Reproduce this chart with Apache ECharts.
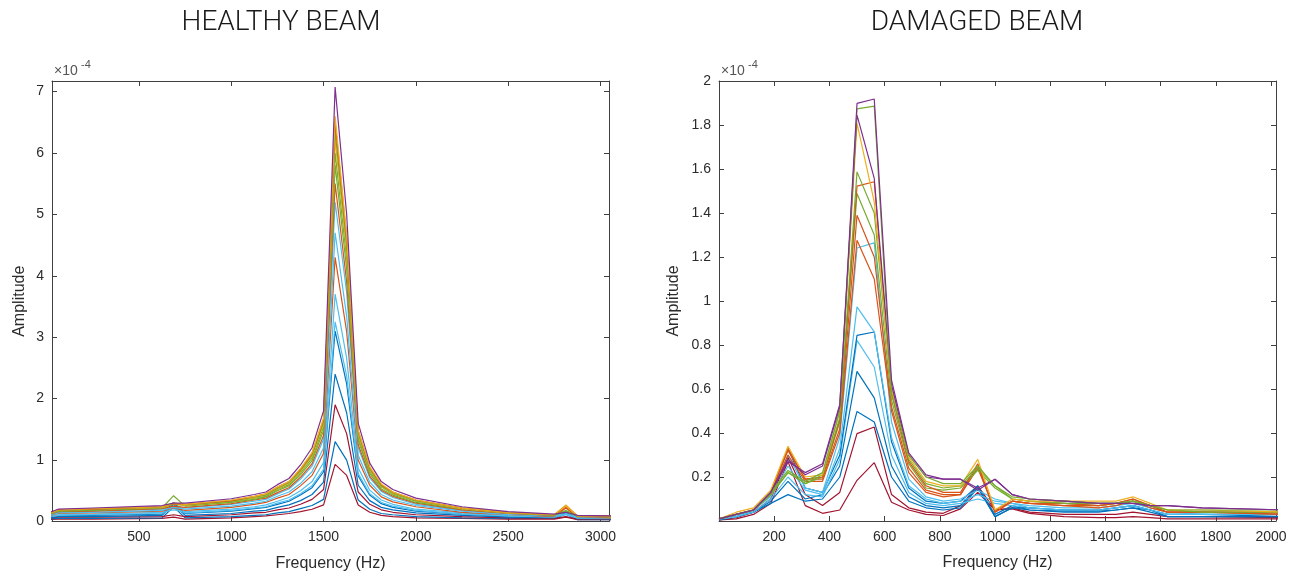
<!DOCTYPE html>
<html>
<head>
<meta charset="utf-8">
<script src="https://cdn.jsdelivr.net/npm/echarts@6/dist/echarts.min.js"></script>
<style>
  html, body { margin: 0; padding: 0; background: #fff; }
  #chart { width: 1306px; height: 579px; }
</style>
</head>
<body>
<div id="chart"></div>
<script>
// MATLAB default line colours
const C = {
  blue: '#0072BD', orange: '#D95319', yellow: '#EDB120', purple: '#7E2F8E',
  green: '#77AC30', lightblue: '#4DBEEE', darkred: '#A2142F'
};

// ---- Healthy beam: frequency bins (Hz) and amplitude spectra (x 1e-4) ----
const healthyFreq = [0, 62.5, 250, 625, 687.5, 750, 1000, 1125, 1187.5, 1250, 1312.5, 1375, 1437.5, 1500,
  1562.5, 1625, 1687.5, 1750, 1812.5, 1875, 2000, 2250, 2500, 2750, 2812.5, 2875, 3062.5];
const healthyColors = ['darkred', 'blue', 'darkred', 'blue', 'blue', 'lightblue', 'lightblue', 'orange',
  'lightblue', 'lightblue', 'orange', 'green', 'green', 'yellow', 'green', 'orange', 'yellow', 'purple'];
const healthyAmp = [
  [0.03,0.04,0.04,0.05,0.07,0.04,0.06,0.08,0.09,0.11,0.13,0.16,0.20,0.27,0.93,0.75,0.27,0.15,0.10,0.08,0.06,0.05,0.04,0.04,0.07,0.03,0.03],
  [0.04,0.05,0.05,0.06,0.24,0.06,0.08,0.10,0.11,0.14,0.16,0.21,0.26,0.36,1.30,1.00,0.35,0.20,0.13,0.11,0.08,0.06,0.05,0.05,0.12,0.03,0.03],
  [0.05,0.07,0.07,0.08,0.11,0.08,0.11,0.14,0.15,0.19,0.22,0.28,0.36,0.52,1.90,1.43,0.48,0.28,0.19,0.15,0.11,0.08,0.06,0.05,0.08,0.04,0.04],
  [0.05,0.08,0.08,0.10,0.28,0.10,0.13,0.17,0.18,0.23,0.27,0.34,0.44,0.64,2.40,1.77,0.59,0.34,0.23,0.19,0.14,0.10,0.07,0.06,0.14,0.05,0.04],
  [0.07,0.10,0.10,0.12,0.31,0.13,0.17,0.21,0.23,0.28,0.33,0.43,0.55,0.81,3.10,2.24,0.74,0.43,0.29,0.23,0.17,0.12,0.08,0.07,0.15,0.06,0.05],
  [0.07,0.10,0.11,0.13,0.22,0.14,0.18,0.22,0.24,0.30,0.35,0.45,0.58,0.85,3.25,2.37,0.78,0.45,0.31,0.25,0.18,0.12,0.09,0.07,0.12,0.06,0.05],
  [0.08,0.11,0.12,0.15,0.19,0.16,0.20,0.24,0.27,0.33,0.39,0.50,0.65,0.96,3.70,2.66,0.87,0.51,0.35,0.28,0.20,0.14,0.09,0.08,0.11,0.06,0.06],
  [0.09,0.13,0.14,0.17,0.22,0.18,0.23,0.28,0.31,0.38,0.44,0.58,0.75,1.11,4.30,3.09,1.00,0.59,0.40,0.32,0.24,0.15,0.11,0.08,0.22,0.07,0.06],
  [0.09,0.14,0.15,0.18,0.23,0.20,0.25,0.30,0.33,0.41,0.48,0.62,0.81,1.20,4.70,3.34,1.08,0.64,0.44,0.35,0.26,0.17,0.11,0.09,0.12,0.07,0.07],
  [0.10,0.15,0.17,0.20,0.24,0.22,0.28,0.33,0.36,0.45,0.53,0.69,0.90,1.34,5.20,3.73,1.20,0.71,0.49,0.39,0.28,0.18,0.12,0.10,0.13,0.08,0.07],
  [0.10,0.16,0.17,0.21,0.25,0.23,0.29,0.35,0.38,0.47,0.55,0.72,0.94,1.40,5.50,3.90,1.25,0.74,0.51,0.41,0.30,0.19,0.13,0.10,0.24,0.08,0.07],
  [0.11,0.17,0.18,0.22,0.42,0.25,0.31,0.36,0.40,0.50,0.58,0.76,0.99,1.48,5.80,4.11,1.32,0.78,0.53,0.43,0.31,0.20,0.14,0.10,0.18,0.09,0.08],
  [0.11,0.17,0.19,0.22,0.28,0.26,0.32,0.38,0.41,0.52,0.60,0.79,1.03,1.54,6.00,4.28,1.37,0.81,0.56,0.45,0.33,0.21,0.14,0.11,0.16,0.09,0.08],
  [0.12,0.18,0.20,0.23,0.29,0.26,0.33,0.39,0.43,0.53,0.62,0.81,1.06,1.59,6.20,4.41,1.41,0.84,0.57,0.46,0.34,0.21,0.14,0.11,0.27,0.09,0.08],
  [0.12,0.18,0.20,0.24,0.30,0.27,0.33,0.40,0.43,0.54,0.63,0.83,1.08,1.62,6.35,4.49,1.44,0.85,0.58,0.47,0.34,0.22,0.15,0.11,0.17,0.09,0.08],
  [0.12,0.19,0.20,0.24,0.29,0.28,0.34,0.41,0.45,0.56,0.65,0.85,1.11,1.66,6.50,4.62,1.48,0.88,0.60,0.48,0.35,0.22,0.15,0.11,0.25,0.09,0.09],
  [0.12,0.19,0.21,0.24,0.30,0.28,0.35,0.41,0.45,0.56,0.65,0.86,1.12,1.68,6.60,4.66,1.49,0.89,0.61,0.48,0.35,0.22,0.15,0.11,0.25,0.09,0.09],
  [0.13,0.20,0.22,0.26,0.30,0.30,0.37,0.44,0.48,0.60,0.70,0.92,1.20,1.80,7.07,5.00,1.60,0.95,0.65,0.52,0.38,0.24,0.16,0.12,0.15,0.10,0.09]
];
const healthyXTicks = [500, 1000, 1500, 2000, 2500, 3000];
const healthyYTicks = [0, 1, 2, 3, 4, 5, 6, 7];

// ---- Damaged beam: frequency bins (Hz) and amplitude spectra (x 1e-4) ----
const damagedFreq = [0, 62.5, 125, 187.5, 250, 312.5, 375, 437.5, 500, 562.5, 625, 687.5, 750, 812.5, 875,
  937.5, 1000, 1062.5, 1125, 1250, 1375, 1437.5, 1500, 1562.5, 1625, 1750, 2062.5];
const damagedColors = ['darkred', 'darkred', 'blue', 'blue', 'lightblue', 'blue', 'lightblue', 'lightblue',
  'orange', 'orange', 'green', 'orange', 'green', 'yellow', 'purple', 'green', 'purple'];
const damagedAmp = [
  [0.005,0.01,0.03,0.08,0.27,0.07,0.035,0.05,0.185,0.265,0.085,0.05,0.03,0.025,0.055,0.13,0.05,0.055,0.035,0.02,0.015,0.015,0.02,0.015,0.01,0.01,0.01],
  [0.005,0.015,0.04,0.10,0.29,0.12,0.07,0.13,0.397,0.427,0.12,0.06,0.04,0.035,0.07,0.16,0.05,0.06,0.04,0.03,0.03,0.03,0.04,0.03,0.02,0.02,0.015],
  [0.005,0.02,0.04,0.08,0.12,0.09,0.10,0.20,0.498,0.45,0.20,0.09,0.06,0.05,0.06,0.15,0.02,0.06,0.05,0.04,0.04,0.05,0.06,0.04,0.02,0.02,0.02],
  [0.005,0.02,0.04,0.09,0.18,0.10,0.12,0.25,0.68,0.56,0.25,0.11,0.07,0.06,0.07,0.15,0.03,0.07,0.05,0.045,0.045,0.05,0.06,0.05,0.03,0.03,0.02],
  [0.01,0.02,0.04,0.10,0.20,0.12,0.11,0.28,0.821,0.70,0.30,0.13,0.08,0.07,0.08,0.10,0.08,0.07,0.06,0.05,0.05,0.06,0.07,0.05,0.03,0.03,0.03],
  [0.01,0.02,0.05,0.12,0.33,0.15,0.13,0.30,0.844,0.859,0.36,0.15,0.09,0.08,0.09,0.16,0.02,0.06,0.06,0.05,0.05,0.06,0.07,0.05,0.02,0.02,0.02],
  [0.01,0.02,0.05,0.11,0.25,0.14,0.12,0.33,0.973,0.86,0.38,0.16,0.10,0.08,0.09,0.12,0.09,0.08,0.06,0.05,0.05,0.06,0.07,0.05,0.03,0.03,0.03],
  [0.01,0.02,0.05,0.12,0.30,0.15,0.13,0.38,1.241,1.264,0.45,0.19,0.11,0.09,0.10,0.14,0.10,0.08,0.07,0.06,0.06,0.07,0.08,0.06,0.04,0.03,0.03],
  [0.01,0.03,0.05,0.12,0.30,0.18,0.18,0.40,1.276,1.10,0.50,0.22,0.13,0.11,0.12,0.24,0.05,0.09,0.08,0.07,0.06,0.07,0.09,0.06,0.04,0.04,0.03],
  [0.01,0.03,0.05,0.13,0.32,0.19,0.19,0.42,1.39,1.20,0.52,0.24,0.14,0.12,0.12,0.25,0.04,0.09,0.08,0.07,0.07,0.08,0.10,0.07,0.04,0.04,0.03],
  [0.01,0.03,0.05,0.12,0.22,0.17,0.20,0.45,1.489,1.30,0.55,0.26,0.15,0.14,0.15,0.23,0.15,0.10,0.09,0.08,0.07,0.08,0.09,0.07,0.05,0.04,0.04],
  [0.01,0.03,0.05,0.13,0.33,0.19,0.20,0.46,1.522,1.542,0.58,0.27,0.16,0.13,0.13,0.26,0.04,0.09,0.08,0.08,0.07,0.08,0.10,0.07,0.04,0.04,0.04],
  [0.01,0.03,0.05,0.12,0.22,0.17,0.21,0.47,1.587,1.40,0.60,0.28,0.17,0.15,0.16,0.24,0.16,0.10,0.09,0.08,0.08,0.08,0.09,0.07,0.05,0.04,0.04],
  [0.01,0.04,0.06,0.14,0.34,0.20,0.21,0.50,1.807,1.45,0.60,0.29,0.18,0.16,0.16,0.28,0.05,0.10,0.09,0.09,0.09,0.09,0.11,0.08,0.05,0.05,0.04],
  [0.01,0.03,0.05,0.13,0.27,0.22,0.26,0.53,1.845,1.557,0.62,0.30,0.20,0.19,0.19,0.15,0.19,0.12,0.10,0.09,0.08,0.08,0.08,0.07,0.07,0.06,0.05],
  [0.01,0.03,0.05,0.13,0.23,0.18,0.22,0.50,1.873,1.886,0.58,0.30,0.20,0.17,0.17,0.25,0.16,0.11,0.10,0.09,0.08,0.08,0.09,0.07,0.05,0.05,0.05],
  [0.01,0.03,0.05,0.13,0.28,0.21,0.25,0.52,1.898,1.918,0.64,0.31,0.21,0.19,0.19,0.14,0.19,0.12,0.10,0.09,0.08,0.08,0.08,0.07,0.07,0.06,0.05]
];
const damagedXTicks = [200, 400, 600, 800, 1000, 1200, 1400, 1600, 1800, 2000];
const damagedYTicks = [0.2, 0.4, 0.6, 0.8, 1, 1.2, 1.4, 1.6, 1.8, 2];

const AXIS = '#404040';
const TEXT = '#2b2b2b';
const FONT = '"Liberation Sans", Arial, sans-serif';

// Bottom/left axes carry labels; top/right copies close the box with inward ticks.
function boxAxes(gridIndex, xRange, yRange, xTicks, yTicks, yFmt, yGap) {
  const tick = { show: true, inside: true, length: 5, lineStyle: { color: AXIS, width: 1 } };
  const line = { show: true, onZero: false, lineStyle: { color: AXIS, width: 1 } };
  const xs = [
    { type: 'value', gridIndex, position: 'bottom', min: xRange[0], max: xRange[1],
      axisLine: line, axisTick: Object.assign({ customValues: xTicks }, tick),
      axisLabel: { customValues: xTicks, color: TEXT, fontSize: 14, fontFamily: FONT, margin: 9,
        formatter: v => String(v) },
      splitLine: { show: false },
      name: 'Frequency (Hz)', nameLocation: 'middle', nameGap: 34,
      nameTextStyle: { color: TEXT, fontSize: 16, fontFamily: FONT } },
    { type: 'value', gridIndex, position: 'top', min: xRange[0], max: xRange[1],
      axisLine: line, axisTick: Object.assign({ customValues: xTicks }, tick),
      axisLabel: { show: false }, splitLine: { show: false } }
  ];
  const ys = [
    { type: 'value', gridIndex, position: 'left', min: yRange[0], max: yRange[1],
      axisLine: line, axisTick: Object.assign({ customValues: yTicks }, tick),
      axisLabel: { customValues: yTicks, color: TEXT, fontSize: 14, fontFamily: FONT, margin: 8, formatter: yFmt },
      splitLine: { show: false },
      name: 'Amplitude', nameLocation: 'middle', nameGap: yGap, nameRotate: 90,
      nameTextStyle: { color: TEXT, fontSize: 16, fontFamily: FONT } },
    { type: 'value', gridIndex, position: 'right', min: yRange[0], max: yRange[1],
      axisLine: line, axisTick: Object.assign({ customValues: yTicks }, tick),
      axisLabel: { show: false }, splitLine: { show: false } }
  ];
  return { xs, ys };
}

const left = boxAxes(0, [29, 3046], [0, 7.17], healthyXTicks, healthyYTicks, v => String(v), 24);
const right = boxAxes(1, [0, 2018], [0, 2], damagedXTicks, damagedYTicks, v => String(+v.toFixed(1)), 37);

function buildSeries(freq, rows, colors, axisIndex) {
  return rows.map((row, i) => ({
    type: 'line',
    xAxisIndex: axisIndex, yAxisIndex: axisIndex,
    data: row.map((v, j) => [freq[j], v]),
    showSymbol: false, symbol: 'none', clip: true,
    lineStyle: { color: C[colors[i]], width: 1.2 },
    itemStyle: { color: C[colors[i]] },
    emphasis: { disabled: true }
  }));
}

function exponent(x) {
  return [
    { type: 'text', left: x, top: 64, style: { text: '\u00d710', fill: '#555', font: '14px ' + FONT } },
    { type: 'text', left: x + 27, top: 59, style: { text: '-4', fill: '#555', font: '11px ' + FONT } }
  ];
}

function title(text, cx) {
  return { type: 'text', x: cx, y: 23, scaleX: 1.0,
    style: { text, fill: '#1a1a1a', font: '300 28px Roboto, sans-serif', align: 'center', verticalAlign: 'middle' } };
}

const chart = echarts.init(document.getElementById('chart'), null, { renderer: 'canvas' });
chart.setOption({
  animation: false,
  backgroundColor: '#ffffff',
  grid: [
    { left: 52, top: 81, width: 557, height: 440.5, containLabel: false, outerBoundsMode: 'none' },
    { left: 719, top: 81, width: 557, height: 440, containLabel: false, outerBoundsMode: 'none' }
  ],
  xAxis: [left.xs[0], left.xs[1], right.xs[0], right.xs[1]],
  yAxis: [left.ys[0], left.ys[1], right.ys[0], right.ys[1]],
  series: [].concat(
    buildSeries(healthyFreq, healthyAmp, healthyColors, 0),
    buildSeries(damagedFreq, damagedAmp, damagedColors, 2)
  ),
  graphic: [].concat(
    [title('HEALTHY BEAM', 281), title('DAMAGED BEAM', 977)],
    exponent(54), exponent(721)
  )
});
</script>
</body>
</html>
